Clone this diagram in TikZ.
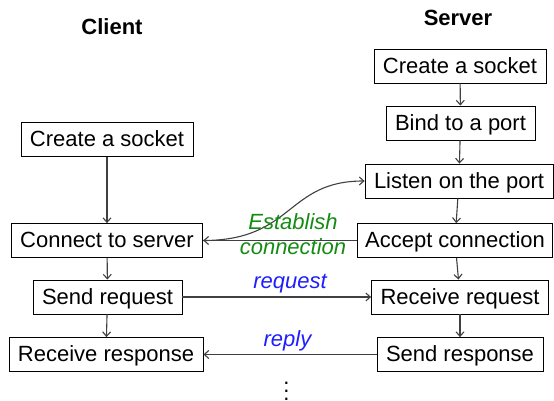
\documentclass[tikz,border=0pt]{standalone}
\usepackage{fontspec}
\setmainfont{Liberation Sans}
\usetikzlibrary{arrows.meta}
\definecolor{estgreen}{RGB}{20,140,20}
\definecolor{reqblue}{RGB}{30,30,255}
\begin{document}
\begin{tikzpicture}[x=1pt,y=-1pt,
  stepbox/.style={draw=black, line width=0.8pt, inner xsep=9pt, minimum height=34pt,
    font=\fontsize{22}{26}\selectfont, text height=17.3pt, text depth=2.7pt},
  flow/.style={-{Straight Barb[length=4.5pt,width=8pt]}, line width=1.1pt, draw=black!75},
  title/.style={font=\fontsize{22}{26}\selectfont\bfseries},
  msg/.style={font=\fontsize{22}{25}\selectfont\itshape, align=center}]
\useasboundingbox (0,0) rectangle (554,401);

% column headings
\node[title] (client) at (112,27) {Client};
\node[title] (server) at (458,18) {Server};

% client side
\node[stepbox] (c1) at (107,139.5) {Create a socket};
\node[stepbox] (c2) at (107,240.5) {Connect to server};
\node[stepbox] (c3) at (107.5,297) {Send request};
\node[stepbox] (c4) at (106,354.5) {Receive response};

% server side
\node[stepbox] (s1) at (460,66) {Create a socket};
\node[stepbox] (s2) at (460.5,123) {Bind to a port};
\node[stepbox] (s3) at (459,181) {Listen on the port};
\node[stepbox, inner xsep=7.5pt] (s4) at (455,240.5) {Accept connection};
\node[stepbox] (s5) at (460,297) {Receive request};
\node[stepbox] (s6) at (460,354.5) {Send response};

% sequence within each side
\draw[flow] (c1) -- (c2);
\draw[flow] (c2) -- (c3);
\draw[flow] (c3) -- (c4);
\draw[flow] (s1) -- (s2);
\draw[flow] (s2) -- (s3);
\draw[flow] (s3) -- (s4);
\draw[flow] (s4) -- (s5);
\draw[flow] (s5) -- (s6);

% exchanges between client and server
\draw[flow] (s4.west) -- (c2.east);
\draw[flow] (c2.east) .. controls (294,240.5) and (286,181) .. (s3.west);
\draw[flow] (c3.east) -- (s5.west);
\draw[flow] (s6.west) -- (c4.east);

% message labels
\node[msg, text=estgreen] (est) at (293,234) {Establish\\connection};
\node[msg, text=reqblue] (req) at (290,284) {request};
\node[msg, text=reqblue] (rep) at (287.5,341) {reply};

% continuation mark
\node[font=\fontsize{22}{8}\selectfont, align=center, inner sep=0pt, anchor=north]
  (more) at (286.5,382) {.\\.\\.};
\end{tikzpicture}
\end{document}
